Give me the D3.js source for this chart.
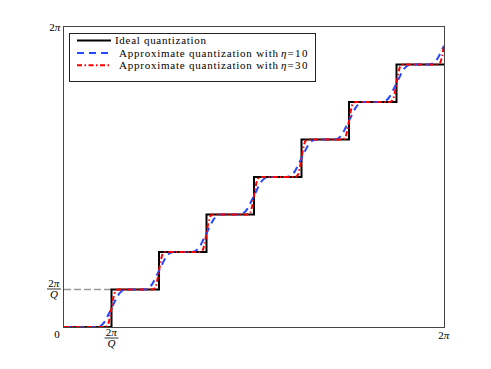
<!DOCTYPE html>
<html>
<head>
<meta charset="utf-8">
<script src="https://cdn.jsdelivr.net/npm/d3@7"></script>
<style>
  body { margin: 0; background: #fff; }
  text { font-family: "Liberation Serif", "DejaVu Serif", serif; fill: #000; }
</style>
</head>
<body>
<div id="chart"></div>
<script>
// quantization with Q levels over [0, 2pi]
const Q = 8;
const stepIndex = [0, 1, 2, 3, 4, 5, 6, 7];

// rise of one soft step: [offset from step (in 2pi/Q), fraction of step]
const riseEta10 = [[-0.32, 0], [-0.22, 0.04], [-0.14, 0.15], [-0.07, 0.32], [0, 0.5],
                   [0.07, 0.68], [0.14, 0.85], [0.22, 0.96], [0.32, 1]];
const riseEta30 = [[-0.14, 0], [-0.08, 0.05], [-0.04, 0.22], [0, 0.5],
                   [0.04, 0.78], [0.08, 0.95], [0.14, 1]];

const legendLabels = ["Ideal quantization", "Approximate quantization with", "Approximate quantization with"];
const legendEta = [null, "10", "30"];

const width = 491, height = 369;
const margin = { left: 64, right: 47, top: 27, bottom: 42 };
const TWO_PI = 2 * Math.PI;
const delta = TWO_PI / Q;

const svg = d3.select('#chart').append('svg')
    .attr('width', width)
    .attr('height', height);

const x = d3.scaleLinear().domain([0, TWO_PI]).range([margin.left, width - margin.right]);
const y = d3.scaleLinear().domain([0, TWO_PI]).range([height - margin.bottom, margin.top]);

svg.append('clipPath').attr('id', 'clip')
  .append('rect')
    .attr('x', x(0)).attr('y', y(TWO_PI))
    .attr('width', x(TWO_PI) - x(0)).attr('height', y(0) - y(TWO_PI));

// ideal staircase
const ideal = stepIndex.map(k => [k * delta, k * delta]);
ideal.push([TWO_PI, stepIndex[stepIndex.length - 1] * delta]);

function softStairs(rise) {
    const pts = [[0, 0]];
    for (let k = 1; k <= Q; k++) {
        rise.forEach(([o, f]) => {
            const xv = (k + o) * delta;
            if (xv <= TWO_PI + 1e-9) pts.push([xv, (k - 1 + f) * delta]);
        });
    }
    return pts;
}

const plot = svg.append('g').attr('clip-path', 'url(#clip)');

// dashed guide at 2pi/Q
plot.append('line')
    .attr('x1', x(0)).attr('x2', x(delta))
    .attr('y1', y(delta)).attr('y2', y(delta))
    .attr('stroke', '#999').attr('stroke-width', 1.5)
    .attr('stroke-dasharray', '7,3');

const stepLine = d3.line().x(d => x(d[0])).y(d => y(d[1])).curve(d3.curveStepAfter);
const smoothLine = d3.line().x(d => x(d[0])).y(d => y(d[1])).curve(d3.curveMonotoneX);

plot.append('path').datum(ideal)
    .attr('d', stepLine)
    .attr('fill', 'none').attr('stroke', '#000').attr('stroke-width', 2);

plot.append('path').datum(softStairs(riseEta10))
    .attr('d', smoothLine)
    .attr('fill', 'none').attr('stroke', '#2448ff').attr('stroke-width', 2)
    .attr('stroke-dasharray', '7,5');

plot.append('path').datum(softStairs(riseEta30))
    .attr('d', smoothLine)
    .attr('fill', 'none').attr('stroke', '#ff0000').attr('stroke-width', 2)
    .attr('stroke-dasharray', '5,2.5,1.5,2.5');

// frame
svg.append('rect')
    .attr('x', x(0) - 0.5).attr('y', y(TWO_PI) - 0.5)
    .attr('width', x(TWO_PI) - x(0) + 1).attr('height', y(0) - y(TWO_PI) + 1)
    .attr('fill', 'none').attr('stroke', '#444').attr('stroke-width', 1);

// tick labels: "2" upright, "pi" italic, as separate texts
const fs = 11;
function twoPi(g, cx, cy) {
    const w2 = 5.5, wp = 6.2;
    const left = cx - (w2 + wp) / 2;
    g.append('text').attr('x', left).attr('y', cy).attr('font-size', fs).text('2');
    g.append('text').attr('x', left + w2).attr('y', cy).attr('font-size', fs)
        .attr('font-style', 'italic').text('π');
}
function fracLabel(cx, cy) {
    const g = svg.append('g');
    twoPi(g, cx, cy - 2.5);
    g.append('line').attr('x1', cx - 7).attr('x2', cx + 7)
        .attr('y1', cy).attr('y2', cy).attr('stroke', '#000').attr('stroke-width', 0.8);
    g.append('text').attr('x', cx).attr('y', cy + 9).attr('text-anchor', 'middle')
        .attr('font-size', fs).attr('font-style', 'italic').text('Q');
}

twoPi(svg, x(0) - 9, y(TWO_PI) + 4);
fracLabel(x(0) - 10, y(delta) - 0.5);
fracLabel(x(delta), y(0) + 11);
twoPi(svg, x(TWO_PI), y(0) + 12);
svg.append('text').attr('x', x(0) - 7).attr('y', y(0) + 11)
    .attr('text-anchor', 'middle').attr('font-size', fs).text('0');

// legend
const leg = svg.append('g');
leg.append('rect')
    .attr('x', 69.5).attr('y', 33.5).attr('width', 246).attr('height', 48)
    .attr('fill', '#fff').attr('stroke', '#222').attr('stroke-width', 1);

const legStyles = [
    { stroke: '#000', dash: null },
    { stroke: '#2448ff', dash: '7,5' },
    { stroke: '#ff0000', dash: '5,2.5,1.5,2.5' }
];
const lfs = 11;
legendLabels.forEach((lab, i) => {
    const ly = 40.5 + i * 12.4;
    leg.append('line')
        .attr('x1', 77).attr('x2', 111).attr('y1', ly).attr('y2', ly)
        .attr('stroke', legStyles[i].stroke).attr('stroke-width', 2)
        .attr('stroke-dasharray', legStyles[i].dash);
    const tx = i === 0 ? 115 : 119;
    leg.append('text').attr('x', tx).attr('y', ly + 3.8)
        .attr('font-size', lfs)
        .attr('textLength', i === 0 ? 91 : 159)
        .attr('lengthAdjust', 'spacing')
        .text(lab);
    if (legendEta[i]) {
        const e = leg.append('text').attr('x', 281).attr('y', ly + 3.8)
            .attr('font-size', lfs).attr('font-style', 'italic').text('η');
        leg.append('text').attr('x', 281 + e.node().getComputedTextLength() + 1).attr('y', ly + 3.8)
            .attr('font-size', lfs).attr('textLength', 20).attr('lengthAdjust', 'spacing')
            .text('=' + legendEta[i]);
    }
});
</script>
</body>
</html>
